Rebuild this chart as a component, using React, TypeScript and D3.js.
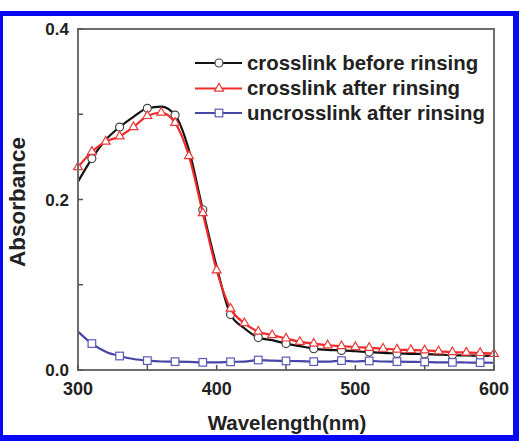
import React, { useEffect, useRef } from 'react';
import * as d3 from 'd3';

// Wavelength grid (nm), sampled every 10 nm
const wavelengths = [
  300, 310, 320, 330, 340, 350, 360, 370, 380, 390, 400, 410, 420, 430, 440, 450,
  460, 470, 480, 490, 500, 510, 520, 530, 540, 550, 560, 570, 580, 590, 600,
];

const beforeRinsing = [
  0.221, 0.248, 0.27, 0.285, 0.297, 0.307, 0.309, 0.299, 0.258, 0.188, 0.121, 0.065,
  0.049, 0.038, 0.035, 0.031, 0.028, 0.025, 0.0235, 0.023, 0.022, 0.021, 0.02, 0.0195,
  0.019, 0.0188, 0.018, 0.0175, 0.017, 0.0168, 0.0165,
];

const afterRinsing = [
  0.238, 0.256, 0.268, 0.274, 0.285, 0.298, 0.302, 0.29, 0.251, 0.184, 0.117, 0.072,
  0.055, 0.045, 0.041, 0.037, 0.033, 0.031, 0.029, 0.028, 0.027, 0.026, 0.025, 0.024,
  0.0235, 0.023, 0.022, 0.021, 0.0205, 0.02, 0.019,
];

const uncrosslinked = [
  0.045, 0.031, 0.0215, 0.0164, 0.0129, 0.011, 0.01, 0.0098, 0.0095, 0.009, 0.009, 0.0096,
  0.0098, 0.0117, 0.011, 0.0106, 0.0105, 0.0098, 0.0098, 0.011, 0.01, 0.0106, 0.01, 0.0098,
  0.0095, 0.0094, 0.009, 0.009, 0.0088, 0.0086, 0.0085,
];

const seriesNames = ['crosslink before rinsing', 'crosslink after rinsing', 'uncrosslink after rinsing'];
const xTicks = [300, 400, 500, 600];
const xMinorTicks = [350, 450, 550];
const yTicks = [0.0, 0.2, 0.4];
const yMinorTicks = [0.1, 0.3];

type Marker = 'circle' | 'triangle' | 'square';

const App: React.FC = () => {
  const svgRef = useRef<SVGSVGElement>(null);

  useEffect(() => {
    if (!svgRef.current) return;
    const W = 521;
    const H = 441;
    const margin = { top: 29, right: 27, bottom: 71, left: 78 };
    const width = W - margin.left - margin.right;
    const height = H - margin.top - margin.bottom;
    const font = '"Liberation Sans", Arial, sans-serif';

    const svg = d3.select(svgRef.current);
    svg.selectAll('*').remove();

    // blue frame
    svg.append('rect').attr('x', 0).attr('y', 0).attr('width', W).attr('height', H).attr('fill', '#fff');
    svg.append('rect').attr('x', -3).attr('y', 11).attr('width', 522).attr('height', 436).attr('fill', '#0808f4');
    svg.append('rect').attr('x', 3).attr('y', 16).attr('width', 510).attr('height', 419).attr('fill', '#fff');

    const g = svg.append('g').attr('transform', `translate(${margin.left},${margin.top})`);

    const x = d3.scaleLinear().domain([300, 600]).range([0, width]);
    const y = d3.scaleLinear().domain([0, 0.4]).range([height, 0]);

    const series = [
      { name: seriesNames[0], values: beforeRinsing, color: '#111111', edge: '#444444', marker: 'circle' as Marker, every: 2, offset: 1 },
      { name: seriesNames[1], values: afterRinsing, color: '#f22a2a', edge: '#e83a3a', marker: 'triangle' as Marker, every: 1, offset: 0 },
      { name: seriesNames[2], values: uncrosslinked, color: '#4646a6', edge: '#5a5ab8', marker: 'square' as Marker, every: 2, offset: 1 },
    ];

    const drawMarker = (sel: d3.Selection<SVGGElement, unknown, null, undefined>, type: Marker, cx: number, cy: number, edge: string) => {
      if (type === 'circle') {
        sel.append('circle').attr('cx', cx).attr('cy', cy).attr('r', 4)
          .attr('fill', '#fff').attr('stroke', edge).attr('stroke-width', 1.2);
      } else if (type === 'square') {
        sel.append('rect').attr('x', cx - 3.8).attr('y', cy - 3.8).attr('width', 7.6).attr('height', 7.6)
          .attr('fill', '#fff').attr('stroke', edge).attr('stroke-width', 1.2);
      } else {
        sel.append('path')
          .attr('d', d3.symbol().type(d3.symbolTriangle).size(34)() as string)
          .attr('transform', `translate(${cx},${cy})`)
          .attr('fill', '#fff').attr('stroke', edge).attr('stroke-width', 1.2);
      }
    };

    const line = d3.line<number>()
      .x((_, i) => x(wavelengths[i]))
      .y(d => y(d))
      .curve(d3.curveMonotoneX);

    series.forEach(s => {
      const sg = g.append('g');
      sg.append('path').attr('d', line(s.values) as string)
        .attr('fill', 'none').attr('stroke', s.color).attr('stroke-width', 2.2);
      s.values.forEach((v, i) => {
        if ((i - s.offset) % s.every !== 0 || i < s.offset) return;
        drawMarker(sg, s.marker, x(wavelengths[i]), y(v), s.edge);
      });
    });

    // frame
    g.append('rect').attr('width', width).attr('height', height)
      .attr('fill', 'none').attr('stroke', '#6e6e6e').attr('stroke-width', 2);

    // ticks (inward)
    [...xTicks, ...xMinorTicks].forEach(t => {
      g.append('line').attr('x1', x(t)).attr('x2', x(t)).attr('y1', height).attr('y2', height - 5)
        .attr('stroke', '#555').attr('stroke-width', 1.5);
    });
    [...yTicks, ...yMinorTicks].forEach(t => {
      g.append('line').attr('x1', 0).attr('x2', 5).attr('y1', y(t)).attr('y2', y(t))
        .attr('stroke', '#555').attr('stroke-width', 1.5);
    });

    // tick labels
    xTicks.forEach(t => {
      g.append('text').attr('x', x(t)).attr('y', height + 25).attr('text-anchor', 'middle')
        .style('font-family', font).style('font-weight', 'bold').style('font-size', '18px')
        .attr('fill', '#222').text(String(t));
    });
    yTicks.forEach(t => {
      g.append('text').attr('x', -9).attr('y', y(t) + 6).attr('text-anchor', 'end')
        .style('font-family', font).style('font-weight', 'bold').style('font-size', '17px')
        .attr('fill', '#222').text(t.toFixed(1));
    });

    // axis titles
    svg.append('text').attr('x', 287).attr('y', 430).attr('text-anchor', 'middle')
      .style('font-family', font).style('font-weight', 'bold').style('font-size', '20.5px')
      .attr('fill', '#222').text('Wavelength(nm)');
    svg.append('text').attr('transform', 'translate(25,202) rotate(-90)').attr('text-anchor', 'middle')
      .style('font-family', font).style('font-weight', 'bold').style('font-size', '22.5px')
      .attr('fill', '#222').text('Absorbance');

    // legend
    const legendY = [63, 88.5, 113];
    series.forEach((s, i) => {
      const lg = svg.append('g');
      lg.append('line').attr('x1', 195).attr('x2', 242).attr('y1', legendY[i]).attr('y2', legendY[i])
        .attr('stroke', s.color).attr('stroke-width', 2.2);
      drawMarker(lg, s.marker, 219, legendY[i], s.edge);
      lg.append('text').attr('x', 247).attr('y', legendY[i] + 6.5)
        .style('font-family', font).style('font-weight', 'bold').style('font-size', '20.4px')
        .attr('fill', '#222').text(s.name);
    });
  }, []);

  return (
    <svg ref={svgRef} width={521} height={441}
      style={{ position: 'absolute', left: 0, top: 0, display: 'block' }} />
  );
};

export default App;
